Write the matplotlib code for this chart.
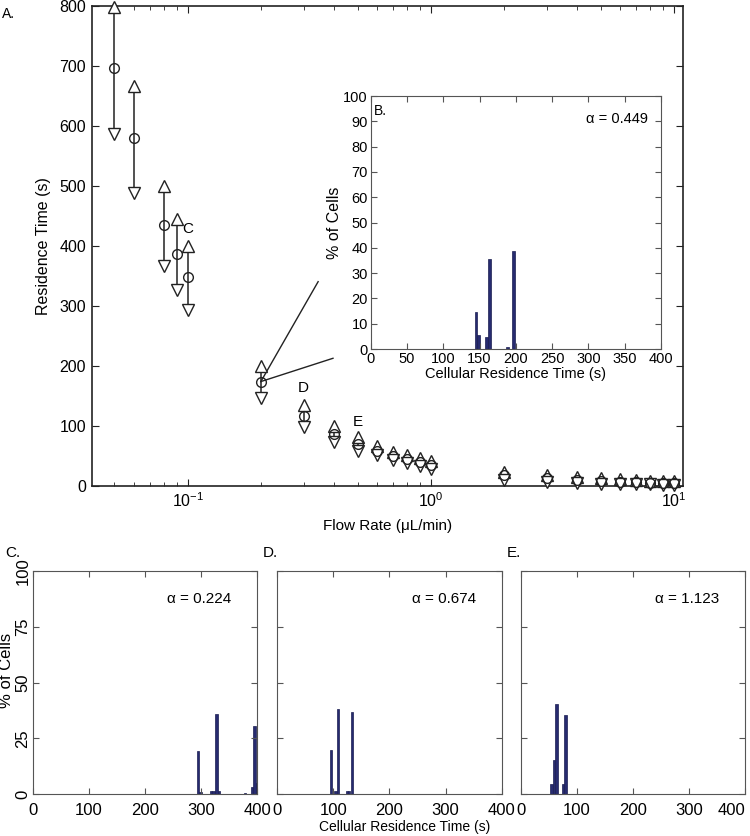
import numpy as np
import matplotlib
matplotlib.use("Agg")
import matplotlib.pyplot as plt

plt.rcParams['font.family'] = ['Liberation Sans', 'DejaVu Sans']
plt.rcParams['mathtext.fontset'] = 'custom'
plt.rcParams['mathtext.rm'] = 'Liberation Sans'

NARROW = ['Liberation Sans Narrow', 'Liberation Sans', 'DejaVu Sans']

# ---------------- data ----------------
flow = [0.05, 0.06, 0.08, 0.09, 0.1, 0.2, 0.3, 0.4, 0.5, 0.6, 0.7, 0.8, 0.9, 1.0,
        2, 3, 4, 5, 6, 7, 8, 9, 10]
t_mean = [697, 580, 435, 387, 349, 174, 117, 87, 70, 59, 50, 45, 40, 35,
          18, 13, 10, 8, 7, 6, 5.5, 5, 4.5]
t_upper = [798, 667, 500, 445, 400, 200, 135, 100, 81, 67, 57, 51, 46, 42,
           24, 19, 15, 13, 11, 10, 9, 8, 8]
t_lower = [587, 489, 367, 326, 293, 147, 98, 74, 59, 52, 43, 38, 34, 29,
           10, 7, 5, 4, 3, 3, 2.5, 2, 2]

# histograms (bin centre s, % of cells)
B_t = [145, 149, 160, 164, 189, 197]
B_pct = [14.5, 5.6, 4.9, 35.6, 0.8, 38.8]
C_t = [294.5, 299, 318, 322.5, 327.5, 332, 379, 391, 395.5, 400]
C_pct = [19.4, 0.9, 1.6, 1.6, 35.8, 1.6, 0.7, 3.4, 30.7, 4.9]
D_t = [96, 103.7, 108.4, 124, 128, 133]
D_pct = [19.9, 1.3, 38.4, 1.3, 1.3, 36.8]
E_t = [55, 59, 64, 75.5, 80]
E_pct = [4.8, 15.4, 40.4, 4.8, 35.7]

BAR = '#272b70'
GRAY = '#555555'

fig = plt.figure(figsize=(7.5, 8.36), dpi=100)

# ---------------- main panel A ----------------
ax = fig.add_axes([0.1223, 0.4187, 0.7884, 0.5742])
ax.set_xscale('log')
ax.set_xlim(0.0403, 10.9)
ax.set_ylim(0, 800)
for x, m, u, l in zip(flow, t_mean, t_upper, t_lower):
    ax.plot([x, x], [l, u], color='#222222', lw=1.1, zorder=2, clip_on=False)
ax.plot(flow, t_upper, ls='none', marker='^', ms=8.5, mfc='white', mec='#222222',
        mew=1.0, clip_on=False, zorder=3)
ax.plot(flow, t_lower, ls='none', marker='v', ms=8.5, mfc='white', mec='#222222',
        mew=1.0, clip_on=False, zorder=3)
ax.plot(flow, t_mean, ls='none', marker='o', ms=7, mfc='none', mec='#222222',
        mew=1.0, clip_on=False, zorder=4)

# lines to the inset
ax.plot([0.2, 0.344], [174, 340.5], color='#222222', lw=1.0)
ax.plot([0.2, 0.396], [174, 212.8], color='#222222', lw=1.0)

ax.text(0.1, 428, 'C', ha='center', va='center', fontsize=11)
ax.text(0.3, 163, 'D', ha='center', va='center', fontsize=11)
ax.text(0.5, 107, 'E', ha='center', va='center', fontsize=11)

ax.set_yticks(np.arange(0, 801, 100))
ax.tick_params(which='both', direction='in', top=True, right=True, labelsize=11.5,
               color='#222222')
ax.tick_params(which='major', length=5, pad=4)
ax.tick_params(which='minor', length=3)
for s in ax.spines.values():
    s.set_color('#222222')
    s.set_linewidth(1.2)
ax.set_xlabel('Flow Rate (\u03bcL/min)', fontsize=11, labelpad=6)
ax.set_ylabel('Residence Time (s)', fontsize=11.5, labelpad=6)
fig.text(0.003, 0.983, 'A.', fontsize=10, va='center')

# ---------------- inset B ----------------
axb = fig.add_axes([0.4943, 0.5825, 0.3871, 0.3026])
axb.bar(B_t, B_pct, width=4, color=BAR, edgecolor='#1a1d50', lw=0.5)
axb.set_xlim(0, 400)
axb.set_ylim(0, 100)
axb.set_xticks(np.arange(0, 401, 50))
axb.set_yticks(np.arange(0, 101, 10))
axb.tick_params(direction='in', top=True, right=True, labelsize=10.5, length=4,
                color=GRAY, pad=2)
for s in axb.spines.values():
    s.set_color(GRAY)
axb.set_xlabel('Cellular Residence Time (s)', fontsize=10.5, labelpad=1)
axb.set_ylabel('% of Cells', fontsize=11.5, labelpad=1)
axb.text(5, 94, 'B.', fontsize=10, va='center')
axb.text(339, 91, '\u03b1 = 0.449', fontsize=10.5, ha='center', va='center')

# ---------------- bottom panels C, D, E ----------------
panels = [('C.', C_t, C_pct, '\u03b1 = 0.224', 0.0436, 5),
          ('D.', D_t, D_pct, '\u03b1 = 0.674', 0.3697, 263),
          ('E.', E_t, E_pct, '\u03b1 = 1.123', 0.6943, 507)]
for i, (lab, tt, pct, alpha_txt, left, lab_x) in enumerate(panels):
    a = fig.add_axes([left, 0.0499, 0.2991, 0.2671])
    a.bar(tt, pct, width=4.4, color=BAR, edgecolor='#1a1d50', lw=0.5)
    a.set_xlim(0, 400)
    a.set_ylim(0, 100)
    a.set_xticks(np.arange(0, 401, 100))
    a.set_yticks(np.arange(0, 101, 25))
    a.tick_params(direction='in', top=True, right=True, length=4,
                  color=GRAY, pad=6)
    a.set_xticklabels([str(v) for v in range(0, 401, 100)], family=NARROW,
                      fontsize=12)
    for s in a.spines.values():
        s.set_color(GRAY)
    if i == 0:
        a.set_yticklabels([str(v) for v in range(0, 101, 25)], family=NARROW,
                          fontsize=12, rotation=90, va='center')
        a.tick_params(axis='y', pad=1.5)
    else:
        a.set_yticklabels([])
    if i == 2:
        a.get_xticklabels()[-1].set_ha('right')
    a.text(297, 87.5, alpha_txt, fontsize=11, ha='center', va='center')
    fig.text(lab_x / 750, 1 - 553 / 836, lab, fontsize=11, va='center')

fig.text(0.009, 1 - 670 / 836, '% of Cells', fontsize=12, rotation=90,
         ha='center', va='center')
fig.text(405 / 750, 1 - 827 / 836, 'Cellular Residence Time (s)', family=NARROW,
         fontsize=10, ha='center', va='center')

fig.savefig('out.png', dpi=100, facecolor='white')
